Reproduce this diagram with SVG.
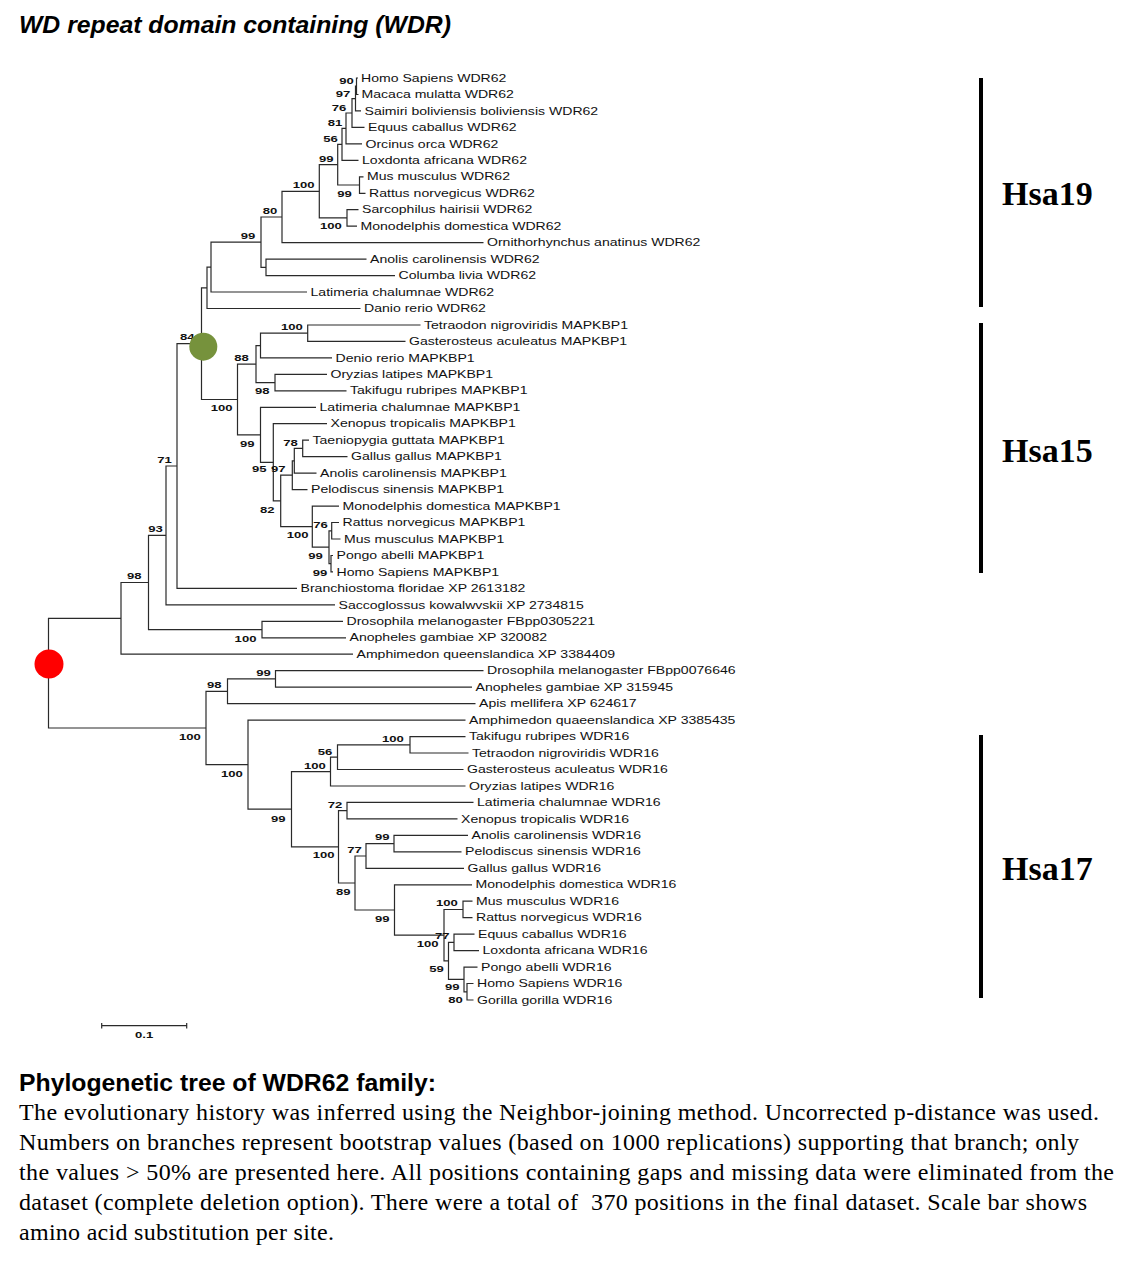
<svg xmlns="http://www.w3.org/2000/svg" width="1135" height="1261" viewBox="0 0 1135 1261">
<style>
.br{fill:none;stroke:#2a2a2a;stroke-width:1.2}
.lf{font-family:"Liberation Sans",Arial,sans-serif;font-size:10.2px;fill:#111}
.bs{font-family:"Liberation Sans",Arial,sans-serif;font-size:9.5px;font-weight:bold;fill:#111}
.hsa{font-family:"Liberation Serif","Times New Roman",serif;font-size:34px;font-weight:bold;fill:#000}
.ttl{font-family:"Liberation Sans",Arial,sans-serif;font-size:24.5px;font-weight:bold;font-style:italic;fill:#000}
.cap{font-family:"Liberation Sans",Arial,sans-serif;font-size:24px;font-weight:bold;fill:#000}
.body{font-family:"Liberation Serif","Times New Roman",serif;font-size:24px;fill:#000;white-space:pre}
.bar{fill:#000}
</style>
<rect width="1135" height="1261" fill="#fff"/>
<text class="ttl" x="19" y="32.5" textLength="432" lengthAdjust="spacingAndGlyphs">WD repeat domain containing (WDR)</text>

<g id="connectors">
<path class="br" d="M358 78 H356.5 V94.5 H358.5"/>
<path class="br" d="M356.5 86.2 H355.5 V110.9 H361"/>
<path class="br" d="M355.5 98.6 H352 V127.4 H364.5"/>
<path class="br" d="M352 113 H346 V143.9 H362"/>
<path class="br" d="M346 128.4 H342 V160.3 H358.5"/>
<path class="br" d="M363.5 176.8 H359.5 V193.3 H365.5"/>
<path class="br" d="M342 144.4 H337.7 V185 H359.5"/>
<path class="br" d="M358.5 209.7 H347 V226.2 H357"/>
<path class="br" d="M337.7 164.7 H319.3 V217.9 H347"/>
<path class="br" d="M319.3 191.3 H282 V242.6 H483.5"/>
<path class="br" d="M366.5 259.1 H266 V275.6 H395"/>
<path class="br" d="M282 217 H261 V267.3 H266"/>
<path class="br" d="M261 242.2 H211 V292 H307"/>
<path class="br" d="M211 267.1 H207 V308.5 H360.5"/>
<path class="br" d="M207 287.8 H201.5 V399.5 H237.5"/>
<path class="br" d="M420.5 325 H307.7 V341.4 H405.5"/>
<path class="br" d="M307.7 333.2 H260.5 V357.9 H332"/>
<path class="br" d="M327 374.4 H275 V390.8 H346.5"/>
<path class="br" d="M260.5 345.6 H256 V382.6 H275"/>
<path class="br" d="M309 440.2 H302.7 V456.7 H347.5"/>
<path class="br" d="M302.7 448.4 H294.3 V473.1 H316.5"/>
<path class="br" d="M294.3 460.8 H292.3 V489.6 H307.5"/>
<path class="br" d="M339 522.5 H331.7 V539 H340.5"/>
<path class="br" d="M333 555.5 H331 V571.9 H333"/>
<path class="br" d="M331.7 530.8 H329 V563.7 H331"/>
<path class="br" d="M339 506.1 H312.3 V547.2 H329"/>
<path class="br" d="M292.3 475.2 H280.7 V526.6 H312.3"/>
<path class="br" d="M327 423.7 H273.3 V500.9 H280.7"/>
<path class="br" d="M316 407.3 H260.5 V462.3 H273.3"/>
<path class="br" d="M256 364.1 H237.5 V434.8 H260.5"/>
<path class="br" d="M201.5 343.6 H177 V588.4 H297"/>
<path class="br" d="M177 466 H166 V604.9 H335"/>
<path class="br" d="M343 621.3 H262 V637.8 H346"/>
<path class="br" d="M166 535.4 H148.5 V629.6 H262"/>
<path class="br" d="M148.5 582.5 H121 V654.2 H353"/>
<path class="br" d="M121 618.4 H48.5 V728 H206"/>
<path class="br" d="M483.5 670.7 H275.5 V687.2 H472"/>
<path class="br" d="M275.5 678.9 H227.5 V703.6 H475.5"/>
<path class="br" d="M465.5 736.6 H410 V753 H468.5"/>
<path class="br" d="M410 744.8 H337.5 V769.5 H463.5"/>
<path class="br" d="M337.5 757.2 H330.5 V786 H465.5"/>
<path class="br" d="M473.5 802.4 H347 V818.9 H457.5"/>
<path class="br" d="M468 835.4 H394 V851.8 H461.5"/>
<path class="br" d="M394 843.6 H366 V868.3 H464"/>
<path class="br" d="M472.5 901.2 H463 V917.7 H472.5"/>
<path class="br" d="M474.5 934.1 H454 V950.6 H479"/>
<path class="br" d="M473.5 983.5 H467 V1000 H473.5"/>
<path class="br" d="M477.5 967.1 H464 V991.8 H467"/>
<path class="br" d="M454 942.4 H448.5 V979.4 H464"/>
<path class="br" d="M463 909.5 H444 V960.9 H448.5"/>
<path class="br" d="M472 884.8 H394.5 V935.2 H444"/>
<path class="br" d="M366 856 H355 V910 H394.5"/>
<path class="br" d="M347 810.7 H338.5 V883 H355"/>
<path class="br" d="M330.5 771.6 H291.5 V846.9 H338.5"/>
<path class="br" d="M465.5 720.1 H248 V809.2 H291.5"/>
<path class="br" d="M227.5 691.3 H206 V764.7 H248"/>
</g>

<g id="leaves">
<text class="lf" transform="translate(361 81.6) scale(1.38 1)">Homo Sapiens WDR62</text>
<text class="lf" transform="translate(361.5 98.1) scale(1.38 1)">Macaca mulatta WDR62</text>
<text class="lf" transform="translate(364.5 114.5) scale(1.38 1)">Saimiri boliviensis boliviensis WDR62</text>
<text class="lf" transform="translate(368 131) scale(1.38 1)">Equus caballus WDR62</text>
<text class="lf" transform="translate(365.5 147.5) scale(1.38 1)">Orcinus orca WDR62</text>
<text class="lf" transform="translate(362 163.9) scale(1.38 1)">Loxdonta africana WDR62</text>
<text class="lf" transform="translate(367 180.4) scale(1.38 1)">Mus musculus WDR62</text>
<text class="lf" transform="translate(369 196.9) scale(1.38 1)">Rattus norvegicus WDR62</text>
<text class="lf" transform="translate(362 213.3) scale(1.38 1)">Sarcophilus hairisii WDR62</text>
<text class="lf" transform="translate(360.5 229.8) scale(1.38 1)">Monodelphis domestica WDR62</text>
<text class="lf" transform="translate(487 246.2) scale(1.38 1)">Ornithorhynchus anatinus WDR62</text>
<text class="lf" transform="translate(370 262.7) scale(1.38 1)">Anolis carolinensis WDR62</text>
<text class="lf" transform="translate(398.5 279.2) scale(1.38 1)">Columba livia WDR62</text>
<text class="lf" transform="translate(310.5 295.6) scale(1.38 1)">Latimeria chalumnae WDR62</text>
<text class="lf" transform="translate(364 312.1) scale(1.38 1)">Danio rerio WDR62</text>
<text class="lf" transform="translate(424 328.6) scale(1.38 1)">Tetraodon nigroviridis MAPKBP1</text>
<text class="lf" transform="translate(409 345) scale(1.38 1)">Gasterosteus aculeatus MAPKBP1</text>
<text class="lf" transform="translate(335.5 361.5) scale(1.38 1)">Denio rerio MAPKBP1</text>
<text class="lf" transform="translate(330.5 378) scale(1.38 1)">Oryzias latipes MAPKBP1</text>
<text class="lf" transform="translate(350 394.4) scale(1.38 1)">Takifugu rubripes MAPKBP1</text>
<text class="lf" transform="translate(319.5 410.9) scale(1.38 1)">Latimeria chalumnae MAPKBP1</text>
<text class="lf" transform="translate(330.5 427.3) scale(1.38 1)">Xenopus tropicalis MAPKBP1</text>
<text class="lf" transform="translate(312.5 443.8) scale(1.38 1)">Taeniopygia guttata MAPKBP1</text>
<text class="lf" transform="translate(351 460.3) scale(1.38 1)">Gallus gallus MAPKBP1</text>
<text class="lf" transform="translate(320 476.7) scale(1.38 1)">Anolis carolinensis MAPKBP1</text>
<text class="lf" transform="translate(311 493.2) scale(1.38 1)">Pelodiscus sinensis MAPKBP1</text>
<text class="lf" transform="translate(342.5 509.7) scale(1.38 1)">Monodelphis domestica MAPKBP1</text>
<text class="lf" transform="translate(342.5 526.1) scale(1.38 1)">Rattus norvegicus MAPKBP1</text>
<text class="lf" transform="translate(344 542.6) scale(1.38 1)">Mus musculus MAPKBP1</text>
<text class="lf" transform="translate(336.5 559.1) scale(1.38 1)">Pongo abelli MAPKBP1</text>
<text class="lf" transform="translate(336.5 575.5) scale(1.38 1)">Homo Sapiens MAPKBP1</text>
<text class="lf" transform="translate(300.5 592) scale(1.38 1)">Branchiostoma floridae XP 2613182</text>
<text class="lf" transform="translate(338.5 608.5) scale(1.38 1)">Saccoglossus kowalwvskii XP 2734815</text>
<text class="lf" transform="translate(346.5 624.9) scale(1.38 1)">Drosophila melanogaster FBpp0305221</text>
<text class="lf" transform="translate(349.5 641.4) scale(1.38 1)">Anopheles gambiae XP 320082</text>
<text class="lf" transform="translate(356.5 657.8) scale(1.38 1)">Amphimedon queenslandica XP 3384409</text>
<text class="lf" transform="translate(487 674.3) scale(1.38 1)">Drosophila melanogaster FBpp0076646</text>
<text class="lf" transform="translate(475.5 690.8) scale(1.38 1)">Anopheles gambiae XP 315945</text>
<text class="lf" transform="translate(479 707.2) scale(1.38 1)">Apis mellifera XP 624617</text>
<text class="lf" transform="translate(469 723.7) scale(1.38 1)">Amphimedon quaeenslandica XP 3385435</text>
<text class="lf" transform="translate(469 740.2) scale(1.38 1)">Takifugu rubripes WDR16</text>
<text class="lf" transform="translate(472 756.6) scale(1.38 1)">Tetraodon nigroviridis WDR16</text>
<text class="lf" transform="translate(467 773.1) scale(1.38 1)">Gasterosteus aculeatus WDR16</text>
<text class="lf" transform="translate(469 789.6) scale(1.38 1)">Oryzias latipes WDR16</text>
<text class="lf" transform="translate(477 806) scale(1.38 1)">Latimeria chalumnae WDR16</text>
<text class="lf" transform="translate(461 822.5) scale(1.38 1)">Xenopus tropicalis WDR16</text>
<text class="lf" transform="translate(471.5 839) scale(1.38 1)">Anolis carolinensis WDR16</text>
<text class="lf" transform="translate(465 855.4) scale(1.38 1)">Pelodiscus sinensis WDR16</text>
<text class="lf" transform="translate(467.5 871.9) scale(1.38 1)">Gallus gallus WDR16</text>
<text class="lf" transform="translate(475.5 888.4) scale(1.38 1)">Monodelphis domestica WDR16</text>
<text class="lf" transform="translate(476 904.8) scale(1.38 1)">Mus musculus WDR16</text>
<text class="lf" transform="translate(476 921.3) scale(1.38 1)">Rattus norvegicus WDR16</text>
<text class="lf" transform="translate(478 937.7) scale(1.38 1)">Equus caballus WDR16</text>
<text class="lf" transform="translate(482.5 954.2) scale(1.38 1)">Loxdonta africana WDR16</text>
<text class="lf" transform="translate(481 970.7) scale(1.38 1)">Pongo abelli WDR16</text>
<text class="lf" transform="translate(477 987.1) scale(1.38 1)">Homo Sapiens WDR16</text>
<text class="lf" transform="translate(477 1003.6) scale(1.38 1)">Gorilla gorilla WDR16</text>
</g>

<g id="bootstrap">
<text class="bs" transform="translate(339.3 84.1) scale(1.38 1)">90</text>
<text class="bs" transform="translate(335.7 96.7) scale(1.38 1)">97</text>
<text class="bs" transform="translate(331.7 110.7) scale(1.38 1)">76</text>
<text class="bs" transform="translate(327.7 126.1) scale(1.38 1)">81</text>
<text class="bs" transform="translate(323.3 141.7) scale(1.38 1)">56</text>
<text class="bs" transform="translate(319 161.7) scale(1.38 1)">99</text>
<text class="bs" transform="translate(292.7 188.4) scale(1.38 1)">100</text>
<text class="bs" transform="translate(337.3 196.7) scale(1.38 1)">99</text>
<text class="bs" transform="translate(262.7 214.1) scale(1.38 1)">80</text>
<text class="bs" transform="translate(320 229.1) scale(1.38 1)">100</text>
<text class="bs" transform="translate(240.7 239.1) scale(1.38 1)">99</text>
<text class="bs" transform="translate(281 330.1) scale(1.38 1)">100</text>
<text class="bs" transform="translate(180 340.1) scale(1.38 1)">84</text>
<text class="bs" transform="translate(234.3 361.1) scale(1.38 1)">88</text>
<text class="bs" transform="translate(255 394.4) scale(1.38 1)">98</text>
<text class="bs" transform="translate(210.7 411.1) scale(1.38 1)">100</text>
<text class="bs" transform="translate(240 446.7) scale(1.38 1)">99</text>
<text class="bs" transform="translate(283.3 446.1) scale(1.38 1)">78</text>
<text class="bs" transform="translate(252 472.4) scale(1.38 1)">95</text>
<text class="bs" transform="translate(271 471.7) scale(1.38 1)">97</text>
<text class="bs" transform="translate(260 512.7) scale(1.38 1)">82</text>
<text class="bs" transform="translate(313.3 527.7) scale(1.38 1)">76</text>
<text class="bs" transform="translate(286.7 538.4) scale(1.38 1)">100</text>
<text class="bs" transform="translate(308.3 559.4) scale(1.38 1)">99</text>
<text class="bs" transform="translate(312.7 576.1) scale(1.38 1)">99</text>
<text class="bs" transform="translate(157.3 463.4) scale(1.38 1)">71</text>
<text class="bs" transform="translate(148.3 532.4) scale(1.38 1)">93</text>
<text class="bs" transform="translate(127 579.4) scale(1.38 1)">98</text>
<text class="bs" transform="translate(234.6 641.7) scale(1.38 1)">100</text>
<text class="bs" transform="translate(256.3 675.7) scale(1.38 1)">99</text>
<text class="bs" transform="translate(207 688.4) scale(1.38 1)">98</text>
<text class="bs" transform="translate(179 740.1) scale(1.38 1)">100</text>
<text class="bs" transform="translate(382 742.4) scale(1.38 1)">100</text>
<text class="bs" transform="translate(317.7 755.1) scale(1.38 1)">56</text>
<text class="bs" transform="translate(304 769.4) scale(1.38 1)">100</text>
<text class="bs" transform="translate(221 776.7) scale(1.38 1)">100</text>
<text class="bs" transform="translate(327.7 807.7) scale(1.38 1)">72</text>
<text class="bs" transform="translate(271 822.1) scale(1.38 1)">99</text>
<text class="bs" transform="translate(375 840.1) scale(1.38 1)">99</text>
<text class="bs" transform="translate(347.3 853.4) scale(1.38 1)">77</text>
<text class="bs" transform="translate(312.7 858.4) scale(1.38 1)">100</text>
<text class="bs" transform="translate(336 895.1) scale(1.38 1)">89</text>
<text class="bs" transform="translate(375 921.7) scale(1.38 1)">99</text>
<text class="bs" transform="translate(436 906.1) scale(1.38 1)">100</text>
<text class="bs" transform="translate(435 939.4) scale(1.38 1)">77</text>
<text class="bs" transform="translate(416.7 946.7) scale(1.38 1)">100</text>
<text class="bs" transform="translate(429.3 971.7) scale(1.38 1)">59</text>
<text class="bs" transform="translate(445 990.1) scale(1.38 1)">99</text>
<text class="bs" transform="translate(448.3 1003.4) scale(1.38 1)">80</text>
</g>

<g id="node-markers">
<circle id="node-green" cx="203.3" cy="346.7" r="14" fill="#76923c"/>
<circle id="node-red" cx="49" cy="664" r="14.5" fill="#ff0000"/>
</g>

<g id="clades">
<g id="clade-hsa19"><rect class="bar" x="979" y="78" width="4" height="229"/><text class="hsa" x="1002" y="205">Hsa19</text></g>
<g id="clade-hsa15"><rect class="bar" x="979" y="323" width="4" height="250"/><text class="hsa" x="1002" y="462">Hsa15</text></g>
<g id="clade-hsa17"><rect class="bar" x="979" y="735" width="4" height="263"/><text class="hsa" x="1002" y="880">Hsa17</text></g>
</g>

<g id="scale-bar">
<path class="br" d="M101.7 1025.7 H186.7 M101.7 1023 V1028.5 M186.7 1023 V1028.5"/>
<text class="bs" transform="translate(135 1038.4) scale(1.38 1)">0.1</text>
</g>

<g id="caption">
<text class="cap" x="19" y="1091" textLength="417" lengthAdjust="spacingAndGlyphs">Phylogenetic tree of WDR62 family:</text>
<text class="body" x="19" y="1120" textLength="1080" lengthAdjust="spacing">The evolutionary history was inferred using the Neighbor-joining method. Uncorrected p-distance was used.</text>
<text class="body" x="19" y="1150" textLength="1060" lengthAdjust="spacing">Numbers on branches represent bootstrap values (based on 1000 replications) supporting that branch; only</text>
<text class="body" x="19" y="1180" textLength="1095" lengthAdjust="spacing">the values &gt; 50% are presented here. All positions containing gaps and missing data were eliminated from the</text>
<text class="body" x="19" y="1210" textLength="1068" lengthAdjust="spacing">dataset (complete deletion option). There were a total of  370 positions in the final dataset. Scale bar shows</text>
<text class="body" x="19" y="1240" textLength="315" lengthAdjust="spacing">amino acid substitution per site.</text>
</g>
</svg>
